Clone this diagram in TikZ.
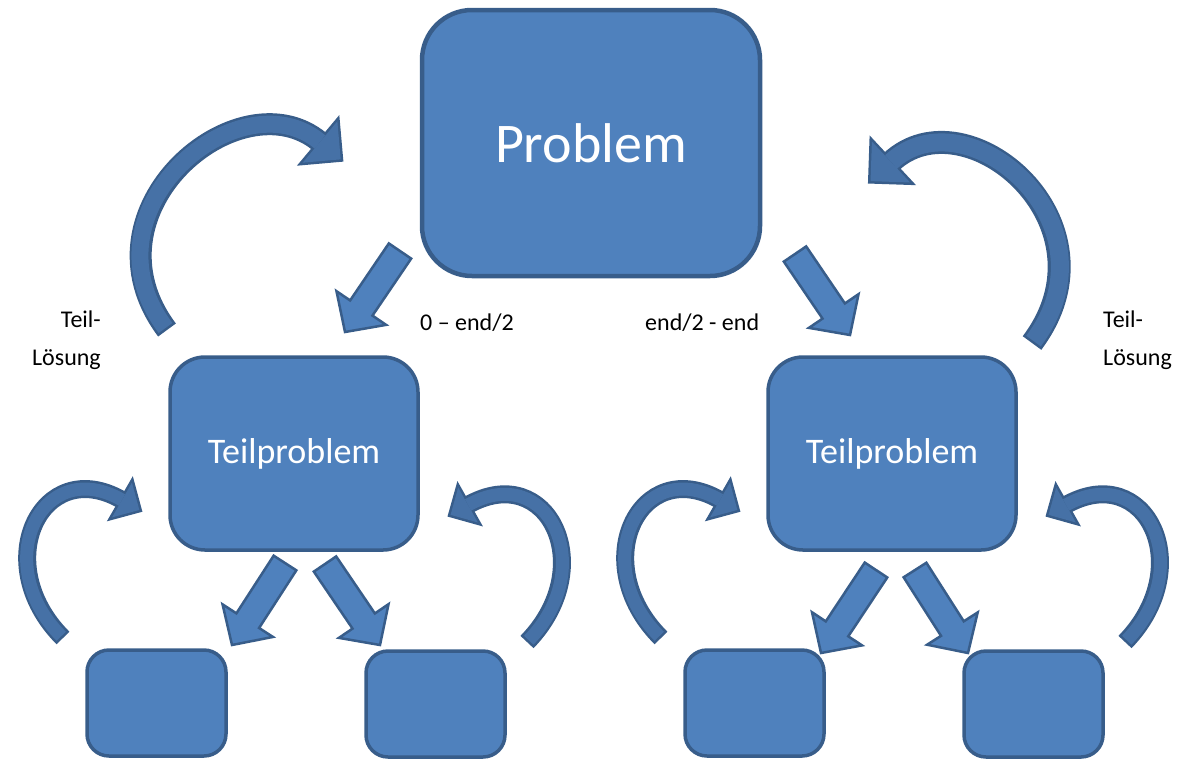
\documentclass[tikz,border=0pt]{standalone}
\usepackage{fontspec}
\setmainfont{Carlito}
\usetikzlibrary{calc}
\definecolor{boxblue}{HTML}{4F81BD}
\definecolor{boxline}{HTML}{385D8A}
\colorlet{loopblue}{boxblue!88!black}
\tikzset{
  box/.style={draw=boxline, fill=boxblue, line width=3.5pt, text=white, inner sep=0pt},
  arrowbody/.style={draw=boxline, fill=boxblue, line width=2.5pt, line join=miter},
  lbl/.style={inner sep=0pt, font=\fontsize{24}{38}\selectfont}
}
% straight block arrow, #1 tail, #2 tip
\newcommand\blockarrow[2]{%
  \coordinate (ah) at ($(#2)!29pt!(#1)$);
  \draw[arrowbody] ($(#1)!13.5pt!90:(#2)$) -- ($(ah)!13.5pt!-90:(#1)$) -- ($(ah)!30pt!-90:(#1)$) -- (#2)
    -- ($(ah)!30pt!90:(#1)$) -- ($(ah)!13.5pt!90:(#1)$) -- ($(#1)!13.5pt!-90:(#2)$) -- cycle;}
% curved block arrow, #1 shaft width, #2 half head, #3 tail, #4 #5 controls, #6 head base
\newcommand\looparrow[6]{%
  \draw[boxline, line width=#1pt+5pt] (#3) .. controls #4 and #5 .. (#6);
  \filldraw[boxline, line width=5pt, line join=miter] ($(#6)!#2pt!90:#5$) -- ($(#6)!-#2pt!#5$) -- ($(#6)!#2pt!-90:#5$) -- cycle;
  \draw[loopblue, line width=#1pt, shorten <=2.5pt] (#3) .. controls #4 and #5 .. (#6);
  \fill[loopblue] ($(#6)!#2pt!90:#5$) -- ($(#6)!-#2pt!#5$) -- ($(#6)!#2pt!-90:#5$) -- cycle;}

\begin{document}
\begin{tikzpicture}[x=1pt,y=-1pt]
\useasboundingbox (0,0) rectangle (1198,761);

% arrows down
\coordinate (pl-tail) at (400,251); \coordinate (pl-tip) at (345,332);
\coordinate (pr-tail) at (795,254); \coordinate (pr-tip) at (850,335);
\coordinate (ll-tail) at (285,563); \coordinate (ll-tip) at (232,645);
\coordinate (lr-tail) at (325,564); \coordinate (lr-tip) at (380,645);
\coordinate (rl-tail) at (876,570); \coordinate (rl-tip) at (821,653);
\coordinate (rr-tail) at (915,570); \coordinate (rr-tip) at (968,653);
\foreach \s in {pl,pr,ll,lr,rl,rr}{\blockarrow{\s-tail}{\s-tip}}

% solutions back up
\coordinate (sl-tail) at (167,330); \coordinate (sl-head) at (320,142);
\coordinate (sr-tail) at (1032,343); \coordinate (sr-head) at (891,162);
\looparrow{17}{27}{sl-tail}{(77,210)}{(240,75)}{sl-head}
\looparrow{18}{28}{sr-tail}{(1122,223)}{(966,92)}{sr-head}

\node[box, line width=4.5pt, minimum width=338, minimum height=266, rounded corners=50,
  font=\fontsize{56}{60}\selectfont] (prob) at (591,143) {Problem};

\foreach \g/\dx in {l/0,r/598}{
  \begin{scope}[xshift=\dx]
    \coordinate (\g-sa-tail) at (63,638); \coordinate (\g-sa-head) at (122,500);
    \coordinate (\g-sb-tail) at (527,642); \coordinate (\g-sb-head) at (468,505);
    \looparrow{13}{20}{\g-sa-tail}{(-12,563)}{(42,454)}{\g-sa-head}
    \looparrow{13}{20}{\g-sb-tail}{(600,567)}{(548,460)}{\g-sb-head}
    \node[box, minimum width=248, minimum height=193, rounded corners=35,
      font=\fontsize{36}{40}\selectfont] (teil-\g) at (294,453.5) {Teilproblem};
    \node[box, minimum width=139, minimum height=106, rounded corners=22] (\g-a) at (156.5,703) {};
    \node[box, minimum width=139, minimum height=106, rounded corners=22] (\g-b) at (435.5,704) {};
  \end{scope}
}

\node[lbl, anchor=base west] (half-l) at (420,330) {0 – end/2};
\node[lbl, anchor=base west] (half-r) at (645,330) {end/2 - end};
\node[lbl, align=right, anchor=north east] (sol-l) at (101,311) {Teil-\\Lösung};
\node[lbl, align=left, anchor=north west] (sol-r) at (1103,311) {Teil-\\Lösung};
\end{tikzpicture}
\end{document}
